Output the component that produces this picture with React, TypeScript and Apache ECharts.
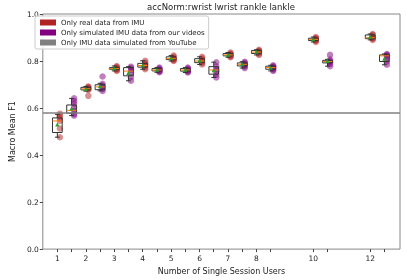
import React, { useEffect, useRef } from "react";
import * as echarts from "echarts";

const users = [1, 2, 3, 4, 5, 6, 7, 8, 10, 12];
const SIM_SHIFT = 0.5;
const xTickValues = [1, 1.5, 2, 2.5, 3, 3.5, 4, 4.5, 5, 5.5, 6, 6.5, 7, 7.5, 8, 8.5, 10, 10.5, 12, 12.5];
const xLabelValues = [1, 2, 3, 4, 5, 6, 7, 8, 10, 12];
const youtubeLevel = [0.585];

// [min, q1, median, q3, max, mean]
const realBoxes = [
  [0.476, 0.496, 0.545, 0.558, 0.573, 0.529],
  [0.672, 0.677, 0.682, 0.688, 0.692, 0.680],
  [0.758, 0.765, 0.768, 0.772, 0.779, 0.768],
  [0.765, 0.774, 0.781, 0.790, 0.801, 0.781],
  [0.800, 0.806, 0.810, 0.818, 0.823, 0.811],
  [0.785, 0.793, 0.800, 0.810, 0.818, 0.801],
  [0.816, 0.822, 0.826, 0.832, 0.836, 0.826],
  [0.826, 0.832, 0.838, 0.845, 0.848, 0.838],
  [0.881, 0.887, 0.892, 0.897, 0.902, 0.892],
  [0.890, 0.895, 0.899, 0.911, 0.915, 0.902],
];
const simBoxes = [
  [0.568, 0.578, 0.590, 0.613, 0.641, 0.597],
  [0.673, 0.678, 0.690, 0.699, 0.705, 0.692],
  [0.716, 0.737, 0.757, 0.772, 0.776, 0.748],
  [0.752, 0.758, 0.762, 0.768, 0.772, 0.762],
  [0.751, 0.757, 0.762, 0.768, 0.772, 0.762],
  [0.730, 0.744, 0.762, 0.776, 0.795, 0.760],
  [0.770, 0.779, 0.786, 0.792, 0.797, 0.785],
  [0.758, 0.765, 0.772, 0.778, 0.782, 0.771],
  [0.778, 0.792, 0.798, 0.803, 0.807, 0.799],
  [0.784, 0.798, 0.822, 0.826, 0.830, 0.809],
];

const realPoints = [
  [0.576, 0.566, 0.556, 0.545, 0.513, 0.476],
  [0.692, 0.688, 0.685, 0.681, 0.677, 0.652],
  [0.779, 0.774, 0.770, 0.766, 0.762, 0.758],
  [0.801, 0.793, 0.786, 0.779, 0.772, 0.765],
  [0.823, 0.818, 0.812, 0.808, 0.804, 0.800],
  [0.818, 0.811, 0.804, 0.798, 0.792, 0.785],
  [0.836, 0.832, 0.828, 0.824, 0.820, 0.816],
  [0.848, 0.844, 0.840, 0.836, 0.831, 0.826],
  [0.902, 0.898, 0.894, 0.890, 0.886, 0.881],
  [0.915, 0.911, 0.903, 0.898, 0.895, 0.890],
];
const simPoints = [
  [0.641, 0.630, 0.618, 0.603, 0.588, 0.575, 0.568],
  [0.734, 0.703, 0.696, 0.689, 0.681, 0.673],
  [0.776, 0.770, 0.762, 0.750, 0.732, 0.716],
  [0.772, 0.768, 0.764, 0.760, 0.756, 0.752],
  [0.772, 0.768, 0.764, 0.760, 0.755, 0.751],
  [0.795, 0.778, 0.766, 0.756, 0.742, 0.730],
  [0.797, 0.792, 0.787, 0.782, 0.777, 0.770],
  [0.782, 0.778, 0.773, 0.768, 0.763, 0.758],
  [0.826, 0.806, 0.800, 0.795, 0.788, 0.778],
  [0.830, 0.826, 0.822, 0.812, 0.798, 0.784],
];

const NAME_REAL = "Only real data from IMU";
const NAME_SIM = "Only simulated IMU data from our videos";
const NAME_YT = "Only IMU data simulated from YouTube";
const RED = "#b22222";
const PURPLE = "#800080";
const GRAY = "#808080";
const FONT = "DejaVu Sans";
const BOX_W = 0.34;
const DOT_SHIFT = 0.09;

function boxRender(params: any, api: any) {
  const x = api.value(0);
  const mn = api.coord([x, api.value(1)]);
  const q1 = api.coord([x, api.value(2)]);
  const md = api.coord([x, api.value(3)]);
  const q3 = api.coord([x, api.value(4)]);
  const mx = api.coord([x, api.value(5)]);
  const me = api.coord([x, api.value(6)]);
  const hw = api.size([BOX_W, 0])[0] / 2;
  const cx = mn[0];
  const edge = { stroke: "#333", lineWidth: 1, fill: null };
  const t = 2.2;
  return {
    type: "group",
    children: [
      { type: "line", shape: { x1: cx, y1: q3[1], x2: cx, y2: mx[1] }, style: edge },
      { type: "line", shape: { x1: cx, y1: q1[1], x2: cx, y2: mn[1] }, style: edge },
      { type: "line", shape: { x1: cx - hw / 2, y1: mx[1], x2: cx + hw / 2, y2: mx[1] }, style: edge },
      { type: "line", shape: { x1: cx - hw / 2, y1: mn[1], x2: cx + hw / 2, y2: mn[1] }, style: edge },
      { type: "rect", shape: { x: cx - hw, y: q3[1], width: hw * 2, height: q1[1] - q3[1] }, style: { stroke: "#333", lineWidth: 1, fill: "none" } },
      { type: "line", shape: { x1: cx - hw, y1: md[1], x2: cx + hw, y2: md[1] }, style: { stroke: "#ff7f0e", lineWidth: 1 } },
      { type: "polygon", shape: { points: [[cx, me[1] - t], [cx - t, me[1] + t * 0.8], [cx + t, me[1] + t * 0.8]] }, style: { fill: "#2ca02c" } },
    ],
  };
}

export default function App() {
  const ref = useRef<HTMLDivElement>(null);
  useEffect(() => {
    if (!ref.current) return;
    const chart = echarts.init(ref.current, undefined, { renderer: "svg" });
    const boxData = (boxes: number[][], shift: number) =>
      boxes.map((b, i) => [users[i] + shift, ...b]);
    const dotData = (pts: number[][], shift: number) => {
      const out: number[][] = [];
      pts.forEach((g, i) => g.forEach((v) => out.push([users[i] + shift + DOT_SHIFT, v])));
      return out;
    };
    chart.setOption({
      animation: false,
      title: {
        text: "accNorm:rwrist lwrist rankle lankle",
        left: 216,
        top: 0,
        padding: [2, 5, 2, 5],
        textAlign: "center",
        textStyle: { fontFamily: FONT, fontSize: 8.5, fontWeight: "normal", color: "#222" },
      },
      legend: {
        orient: "vertical",
        left: 35,
        top: 16,
        itemWidth: 16,
        itemHeight: 6,
        itemGap: 3,
        padding: [3, 4, 3, 5],
        borderColor: "#ccc",
        borderWidth: 1,
        borderRadius: 2,
        backgroundColor: "rgba(255,255,255,0.85)",
        textStyle: { fontFamily: FONT, fontSize: 7, color: "#222", lineHeight: 7 },
        data: [
          { name: NAME_REAL, icon: "rect", itemStyle: { color: RED, opacity: 1 } },
          { name: NAME_SIM, icon: "rect", itemStyle: { color: PURPLE, opacity: 1 } },
          { name: NAME_YT, icon: "rect", itemStyle: { color: GRAY, opacity: 1 } },
        ],
      },
      grid: { left: 32, right: 7, top: 14, bottom: 28, show: true, borderColor: "#888", borderWidth: 1 },
      xAxis: {
        type: "value",
        min: 0.49,
        max: 13.05,
        name: "Number of Single Session Users",
        nameLocation: "middle",
        nameGap: 14,
        nameTextStyle: { fontFamily: FONT, fontSize: 8, color: "#222" },
        axisLine: { show: false },
        axisTick: { show: true, length: 3, lineStyle: { color: "#444" }, customValues: xTickValues },
        axisLabel: { fontFamily: FONT, fontSize: 7.5, color: "#222", margin: 5, customValues: xLabelValues },
        splitLine: { show: false },
      },
      yAxis: {
        type: "value",
        min: 0,
        max: 1,
        interval: 0.2,
        name: "Macro Mean F1",
        nameLocation: "middle",
        nameGap: 20,
        nameRotate: 90,
        nameTextStyle: { fontFamily: FONT, fontSize: 8, color: "#222" },
        axisLine: { show: false },
        axisTick: { show: true, length: 3, lineStyle: { color: "#444" } },
        axisLabel: { fontFamily: FONT, fontSize: 7.5, color: "#222", margin: 4, formatter: (v: number) => v.toFixed(1) },
        splitLine: { show: false },
      },
      series: [
        {
          name: NAME_REAL,
          type: "scatter",
          data: dotData(realPoints, 0),
          symbolSize: 6.5,
          itemStyle: { color: RED, opacity: 0.5 },
          z: 2,
        },
        {
          name: NAME_SIM,
          type: "scatter",
          data: dotData(simPoints, SIM_SHIFT),
          symbolSize: 6.5,
          itemStyle: { color: PURPLE, opacity: 0.5 },
          z: 2,
        },
        {
          name: NAME_YT,
          type: "line",
          data: [],
          itemStyle: { color: GRAY },
          markLine: {
            silent: true,
            symbol: "none",
            label: { show: false },
            lineStyle: { color: GRAY, width: 1.5, type: "solid" },
            data: youtubeLevel.map((v) => ({ yAxis: v })),
          },
        },
        {
          type: "custom",
          renderItem: boxRender,
          data: boxData(realBoxes, 0),
          encode: { x: 0, y: [1, 5] },
          z: 3,
        },
        {
          type: "custom",
          renderItem: boxRender,
          data: boxData(simBoxes, SIM_SHIFT),
          encode: { x: 0, y: [1, 5] },
          z: 3,
        },
      ],
    });
    return () => chart.dispose();
  }, []);
  return <div ref={ref} style={{ position: "fixed", left: 0, top: 0, width: 407, height: 280 }} />;
}
